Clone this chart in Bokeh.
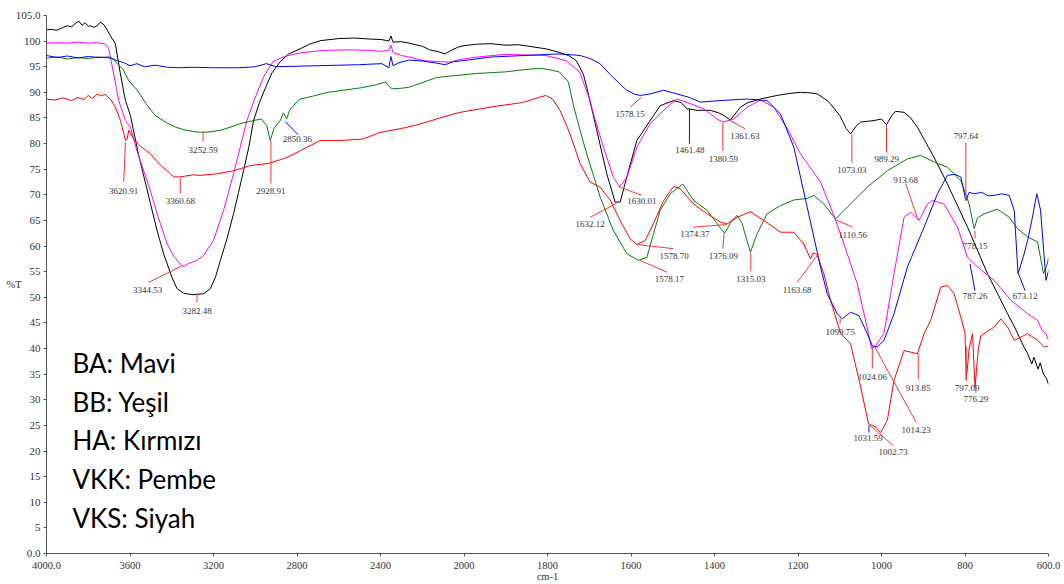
import numpy as np
from bokeh.plotting import figure
from bokeh.models import Range1d, FixedTicker, Label, ColumnDataSource
from bokeh.core.properties import value
from bokeh.embed import file_html
from bokeh.resources import INLINE

# ---------------- data (wavenumber cm-1, %T) ----------------
X_TICKS = [4000, 3600, 3200, 2800, 2400, 2000, 1800, 1600, 1400, 1200, 1000, 800, 600]
X_TICK_LABELS = ["4000.0", "3600", "3200", "2800", "2400", "2000", "1800", "1600",
                 "1400", "1200", "1000", "800", "600.0"]
Y_TICKS = list(range(0, 106, 5))
Y_TICK_LABELS = ["0.0"] + [str(v) for v in range(5, 105, 5)] + ["105.0"]

# VKS: Siyah (black)
BK_W = [4000, 3975, 3950, 3925, 3901, 3880, 3860, 3845, 3830, 3815, 3800, 3790, 3775, 3760, 3742,
        3725, 3710, 3690, 3670, 3646, 3622, 3598, 3560, 3502, 3470, 3439, 3400, 3375, 3343, 3300,
        3247, 3215, 3190, 3167, 3135, 3104, 3080, 3056, 3030, 3008, 2980, 2950, 2920, 2880, 2840,
        2785, 2740, 2686, 2600, 2523, 2450, 2393, 2360, 2350, 2340, 2300, 2263, 2200, 2164, 2120,
        2092, 2060, 2030, 2001, 1970, 1935, 1900, 1870, 1837, 1804, 1772, 1750, 1731, 1714, 1706,
        1682, 1658, 1638, 1626, 1610, 1586, 1554, 1530, 1498, 1480, 1466, 1442, 1410, 1390, 1378,
        1362, 1338, 1320, 1290, 1250, 1220, 1194, 1170, 1154, 1130, 1122, 1100, 1085, 1074, 1060,
        1050, 1018, 1000, 988, 975, 966, 946, 930, 914, 874, 842, 794, 746, 698, 680, 660, 650,
        640, 635, 625, 620, 612, 605, 600]
BK_T = [102.2, 102.3, 102.1, 102.6, 103.0, 102.8, 103.5, 103.9, 103.1, 103.6, 102.9, 103.0, 102.7,
        102.9, 103.7, 103.2, 102.2, 100.8, 99.5, 93.6, 88.4, 85.5, 78.0, 68.3, 63.0, 58.5, 54.0,
        51.7, 50.8, 50.5, 50.7, 51.7, 54.0, 57.2, 61.5, 66.3, 70.5, 74.7, 79.5, 84.5, 88.0, 91.0,
        93.8, 96.0, 97.5, 98.5, 99.4, 100.1, 100.5, 100.6, 100.4, 100.3, 100.0, 101.0, 99.8, 99.9,
        99.6, 99.0, 98.3, 97.9, 97.5, 98.2, 98.8, 99.1, 99.4, 99.5, 99.2, 99.3, 98.9, 98.5, 97.8,
        97.2, 96.2, 93.5, 91.0, 82.6, 74.1, 68.6, 68.6, 73.5, 80.6, 84.5, 87.4, 88.4, 88.0, 86.8,
        86.5, 86.5, 86.0, 85.5, 84.6, 87.1, 88.0, 88.7, 89.4, 89.8, 90.0, 89.9, 89.7, 88.4, 87.7,
        85.5, 83.0, 81.9, 83.5, 84.2, 84.5, 84.8, 83.7, 85.5, 86.3, 86.1, 85.0, 83.2, 77.3, 72.1,
        63.7, 54.6, 46.8, 44.0, 40.5, 39.0, 37.0, 38.3, 36.0, 37.2, 35.0, 34.2, 33.0]

# VKK: Pembe (magenta)
PK_W = [4000, 3950, 3900, 3850, 3800, 3760, 3726, 3714, 3702, 3678, 3654, 3622, 3598, 3566, 3534,
        3500, 3470, 3422, 3390, 3359, 3344, 3320, 3279, 3247, 3200, 3152, 3104, 3072, 3040, 3000,
        2960, 2915, 2860, 2785, 2720, 2654, 2550, 2458, 2400, 2360, 2350, 2340, 2300, 2263, 2196,
        2130, 2067, 2020, 1968, 1902, 1850, 1804, 1756, 1723, 1698, 1690, 1666, 1642, 1627, 1610,
        1586, 1554, 1522, 1490, 1458, 1426, 1394, 1380, 1354, 1322, 1290, 1258, 1226, 1194, 1146,
        1114, 1082, 1058, 1034, 1024, 1014, 994, 970, 946, 930, 910, 890, 878, 850, 818, 794, 770,
        730, 690, 650, 626, 615, 606, 600]
PK_T = [99.6, 99.7, 99.6, 99.8, 99.6, 99.7, 99.5, 99.3, 98.5, 93.6, 88.4, 84.5, 83.2, 78.5, 74.7,
        70.5, 66.3, 60.4, 58.0, 56.5, 56.0, 56.6, 57.2, 58.2, 61.1, 66.9, 74.1, 79.3, 84.5, 89.0,
        93.0, 96.0, 97.0, 97.7, 98.0, 98.2, 98.3, 98.2, 98.0, 98.2, 99.2, 97.8, 97.2, 96.9, 96.2,
        96.0, 95.9, 96.4, 96.9, 97.4, 97.3, 97.2, 96.2, 94.0, 88.4, 85.8, 79.3, 73.4, 71.6, 73.4,
        79.3, 83.9, 86.5, 88.7, 87.8, 86.8, 84.8, 84.2, 84.8, 87.1, 88.5, 87.1, 83.0, 78.0, 72.5,
        66.0, 58.5, 52.6, 44.0, 40.0, 40.5, 43.0, 54.6, 65.6, 66.6, 65.0, 68.2, 68.9, 68.2, 63.7,
        57.8, 55.9, 53.3, 49.4, 46.8, 45.5, 43.5, 42.9, 41.6]

# BA: Mavi (blue)
BL_W = [4000, 3950, 3900, 3850, 3800, 3750, 3700, 3665, 3630, 3600, 3567, 3530, 3480, 3420, 3371,
        3300, 3200, 3078, 3000, 2947, 2900, 2800, 2700, 2600, 2500, 2450, 2393, 2360, 2350, 2340,
        2311, 2263, 2196, 2131, 2090, 2050, 2001, 1935, 1854, 1800, 1772, 1722, 1698, 1674, 1650,
        1625, 1610, 1590, 1578, 1554, 1522, 1490, 1460, 1434, 1386, 1322, 1274, 1242, 1210, 1178,
        1146, 1130, 1106, 1094, 1074, 1054, 1034, 1022, 1010, 994, 970, 938, 898, 866, 842, 825,
        810, 798, 790, 778, 760, 745, 730, 712, 694, 682, 673, 660, 650, 640, 628, 619, 606, 600]
BL_T = [97.2, 96.8, 97.1, 96.7, 97.0, 96.8, 96.9, 96.2, 95.8, 95.2, 95.6, 95.0, 95.3, 94.9, 94.8,
        94.9, 94.8, 94.8, 95.0, 95.6, 95.0, 95.1, 95.2, 95.3, 95.4, 95.5, 95.6, 94.8, 97.0, 95.2,
        95.8, 96.3, 96.1, 95.7, 95.4, 96.0, 96.2, 96.9, 97.2, 97.4, 97.5, 97.2, 96.6, 95.6, 93.5,
        91.5, 90.4, 89.6, 89.4, 89.7, 90.4, 89.7, 89.0, 88.1, 88.4, 88.7, 88.4, 85.8, 79.3, 67.6,
        55.9, 50.7, 46.8, 45.8, 47.1, 46.4, 42.9, 40.5, 40.3, 41.6, 46.8, 55.9, 63.7, 70.2, 73.8,
        74.0, 73.5, 68.9, 70.5, 70.2, 70.5, 69.8, 69.9, 70.2, 69.9, 66.9, 54.6, 58.0, 61.1, 65.0,
        70.2, 67.0, 53.3, 55.2]

# BB: Yeşil (green)
GR_W = [4000, 3950, 3900, 3850, 3800, 3750, 3700, 3681, 3660, 3633, 3606, 3567, 3518, 3480, 3422,
        3380, 3343, 3300, 3263, 3210, 3167, 3120, 3072, 3008, 2970, 2945, 2928, 2910, 2880, 2865,
        2850, 2835, 2800, 2785, 2720, 2654, 2600, 2491, 2420, 2376, 2355, 2344, 2300, 2263, 2200,
        2131, 2060, 1968, 1900, 1870, 1821, 1800, 1772, 1750, 1738, 1720, 1706, 1674, 1642, 1610,
        1582, 1562, 1546, 1530, 1506, 1476, 1450, 1418, 1394, 1376, 1358, 1346, 1334, 1314, 1298,
        1274, 1242, 1210, 1178, 1162, 1138, 1110, 1082, 1034, 986, 938, 906, 874, 842, 810, 790,
        778, 770, 754, 722, 694, 674, 650, 626, 612, 603, 600]
GR_T = [96.7, 96.9, 96.5, 96.8, 96.6, 96.9, 96.7, 96.5, 95.5, 94.5, 92.3, 90.5, 87.5, 85.5, 84.0,
        83.2, 82.7, 82.4, 82.2, 82.3, 82.6, 83.2, 83.9, 84.5, 84.8, 83.5, 80.6, 83.0, 84.5, 86.0,
        84.8, 86.5, 88.2, 88.7, 89.3, 90.0, 90.3, 90.9, 91.5, 92.0, 91.0, 90.7, 90.8, 91.0, 91.9,
        92.9, 93.2, 93.7, 94.0, 94.3, 94.7, 94.5, 94.0, 92.0, 87.5, 82.0, 78.0, 69.6, 63.0, 58.5,
        57.2, 57.8, 62.4, 67.0, 70.2, 72.1, 68.9, 67.0, 64.4, 62.5, 65.0, 66.0, 64.4, 58.8, 62.4,
        66.3, 67.9, 69.0, 69.3, 69.9, 68.2, 65.3, 67.6, 71.5, 74.7, 77.0, 77.7, 76.4, 75.4, 72.8,
        68.2, 63.4, 65.5, 66.3, 67.2, 65.6, 63.4, 61.8, 60.8, 54.6, 56.5, 57.7]

# HA: Kırmızı (red)
RD_W = [4000, 3960, 3920, 3880, 3850, 3820, 3800, 3780, 3758, 3740, 3720, 3694, 3670, 3646, 3630,
        3621, 3614, 3606, 3582, 3550, 3502, 3460, 3422, 3390, 3359, 3300, 3263, 3183, 3104, 3024,
        2928, 2848, 2785, 2689, 2593, 2482, 2402, 2306, 2250, 2178, 2100, 2019, 1960, 1914, 1860,
        1821, 1804, 1788, 1770, 1746, 1722, 1698, 1674, 1650, 1626, 1602, 1586, 1566, 1546, 1522,
        1498, 1482, 1450, 1418, 1386, 1370, 1346, 1314, 1282, 1242, 1210, 1186, 1170, 1163, 1154,
        1138, 1122, 1098, 1074, 1050, 1031, 1014, 1002, 986, 970, 946, 914, 898, 882, 858, 842,
        826, 810, 800, 797, 790, 782, 776, 768, 762, 730, 714, 698, 682, 650, 626, 610, 600]
RD_T = [88.7, 88.5, 88.9, 88.4, 89.0, 88.6, 89.4, 88.8, 89.7, 89.3, 89.6, 88.7, 87.1, 84.5, 82.0,
        80.6, 80.8, 82.6, 80.9, 79.5, 78.0, 76.0, 74.7, 73.5, 73.5, 73.9, 73.8, 74.1, 74.7, 75.7,
        76.2, 77.3, 78.6, 80.6, 80.6, 80.9, 82.2, 82.9, 83.4, 84.2, 85.2, 86.1, 86.8, 87.4, 88.0,
        89.0, 89.4, 88.7, 86.5, 81.9, 76.1, 72.5, 71.5, 69.0, 65.0, 61.4, 60.3, 61.1, 64.4, 68.9,
        71.6, 71.2, 68.2, 66.3, 64.7, 64.3, 65.6, 66.7, 65.0, 62.7, 62.7, 60.4, 57.5, 58.7, 58.3,
        54.6, 49.4, 43.0, 40.9, 32.5, 25.3, 24.7, 23.6, 26.0, 33.8, 39.6, 39.0, 42.9, 45.5, 52.0,
        52.3, 50.7, 46.1, 43.0, 33.8, 40.0, 42.9, 32.5, 40.0, 42.5, 44.2, 45.8, 44.2, 41.6, 42.9,
        41.6, 40.3, 40.5]

# peak labels: text, label position (cm-1, %T), leader line (cm-1, %T) -> (cm-1, %T), leader colour
PEAK_TEXT = ["3620.91", "3360.68", "3252.59", "2928.91", "2850.36", "3344.53", "3282.48",
             "1578.15", "1461.48", "1380.59", "1361.63", "1630.01", "1632.12", "1578.70",
             "1578.17", "1374.37", "1376.09", "1315.03", "1163.68", "1073.03", "989.29",
             "797.64", "913.68", "778.15", "1110.56", "787.26", "673.12", "1099.75", "1024.06",
             "913.85", "797.09", "776.29", "1014.23", "1002.73", "1031.59"]
PEAK_TX = [3630, 3359, 3250, 2925, 2798, 3515, 3279, 1602, 1459, 1379, 1327, 1574, 1698, 1497,
           1508, 1447, 1379, 1313, 1202, 1071, 988, 798, 942, 776, 1069, 776, 656, 1099, 1022,
           912, 795, 774, 917, 972, 1032]
PEAK_TY = [70.8, 68.7, 78.8, 70.8, 80.8, 51.5, 47.3, 85.7, 78.8, 77.0, 81.4, 68.8, 64.3, 58.0,
           53.6, 62.3, 58.0, 53.6, 51.5, 74.9, 77.0, 81.4, 72.8, 60.1, 62.2, 50.2, 50.2, 43.2,
           34.5, 32.3, 32.3, 30.2, 24.1, 19.8, 22.6]
LEAD_X0 = [3622, 3359, 3250, 2925, 2856, 3511, 3279, 1602, 1460, 1380, 1363, 1630, 1698, 1586,
           1578, 1451, 1377, 1313, 1202, 1071, 988, 798, 942, 776, 1109, 788, 672, 1099, 1022,
           912, 797, 774, 1016, 1028, 1030]
LEAD_Y0 = [80.3, 73.2, 82.4, 80.6, 84.3, 52.9, 50.7, 87.1, 86.8, 84.1, 84.5, 71.6, 65.6, 60.3,
           57.2, 63.7, 62.4, 58.7, 52.9, 81.8, 83.7, 80.2, 72.2, 63.0, 65.1, 56.5, 54.6, 45.9,
           40.4, 39.0, 40.4, 32.6, 40.3, 25.0, 25.0]
LEAD_X1 = [3630, 3359, 3250, 2925, 2794, 3343, 3279, 1574, 1460, 1380, 1327, 1574, 1634, 1499,
           1514, 1371, 1380, 1313, 1151, 1071, 988, 798, 912, 776, 1069, 776, 656, 1099, 1022,
           912, 797, 774, 917, 972, 1030]
LEAD_Y1 = [72.5, 70.3, 80.4, 72.2, 81.7, 56.3, 49.0, 89.1, 80.0, 78.6, 82.9, 69.9, 68.4, 59.5,
           54.9, 64.2, 59.5, 55.2, 58.5, 76.3, 78.3, 68.9, 65.0, 61.5, 63.7, 51.3, 51.3, 44.9,
           36.1, 34.0, 33.8, 31.4, 25.6, 21.1, 23.6]
LEAD_COLOR = ["red", "red", "red", "red", "blue", "red", "red", "red", "blue", "red", "red",
              "red", "red", "red", "red", "red", "red", "red", "red", "red", "red", "red", "red",
              "red", "red", "blue", "blue", "red", "red", "red", "red", "red", "red", "red", "blue"]

LEGEND_LINES = ["BA: Mavi", "BB: Yeşil", "HA: Kırmızı", "VKK: Pembe", "VKS: Siyah"]


# ---------------- axis transform: 4000-2000 at half scale, 2000-600 full ----------------
def xu(w):
    w = np.asarray(w, dtype=float)
    return np.where(w >= 2000, (4000.0 - w) / 2.0, 1000.0 + (2000.0 - w))


SERIF = "Liberation Serif"
TXT = "#333333"

p = figure(frame_width=1002, frame_height=538, output_backend="svg", toolbar_location=None,
           x_range=Range1d(0, 2400), y_range=Range1d(0, 105),
           min_border_left=46, min_border_right=16, min_border_top=15, min_border_bottom=31)
p.outline_line_color = None
p.grid.visible = False
p.background_fill_color = "white"
p.border_fill_color = "white"

tick_pos = [int(v) for v in xu(X_TICKS)]
p.xaxis.ticker = FixedTicker(ticks=tick_pos)
p.xaxis.major_label_overrides = {t: l for t, l in zip(tick_pos, X_TICK_LABELS)}
p.yaxis.ticker = FixedTicker(ticks=Y_TICKS)
p.yaxis.major_label_overrides = {t: l for t, l in zip(Y_TICKS, Y_TICK_LABELS)}
for ax in (p.xaxis[0], p.yaxis[0]):
    ax.axis_line_color = "#555555"
    ax.major_tick_line_color = "#555555"
    ax.minor_tick_line_color = None
    ax.major_tick_in = 0
    ax.major_tick_out = 3
    ax.major_label_text_font = SERIF
    ax.major_label_text_color = TXT
    ax.axis_label_text_font = SERIF
    ax.axis_label_text_font_style = "normal"
    ax.axis_label_text_color = TXT
    ax.axis_label_text_font_size = "10.5px"
p.xaxis.major_label_text_font_size = "10.5px"
p.yaxis.major_label_text_font_size = "11px"
p.xaxis.major_label_standoff = 5
p.yaxis.major_label_standoff = 3

# axis titles
p.xaxis.axis_label = "cm-1"
p.xaxis.axis_label_standoff = -1
p.yaxis.axis_label = "%T"
p.yaxis.axis_label_orientation = "horizontal"
p.yaxis.axis_label_standoff = -9

for W, T, col in [(BK_W, BK_T, "black"), (PK_W, PK_T, "#ff00ff"), (GR_W, GR_T, "#008000"),
                  (RD_W, RD_T, "#ff0000"), (BL_W, BL_T, "#0000ff")]:
    p.line(xu(W), T, line_color=col, line_width=1)

colmap = {"red": "#ff3333", "blue": "#0000ff"}
lead_src = ColumnDataSource(dict(x0=xu(LEAD_X0), y0=LEAD_Y0, x1=xu(LEAD_X1), y1=LEAD_Y1,
                                 c=[colmap[c] for c in LEAD_COLOR]))
p.segment("x0", "y0", "x1", "y1", source=lead_src, line_color="c", line_width=1)

txt_src = ColumnDataSource(dict(x=xu(PEAK_TX), y=PEAK_TY, t=PEAK_TEXT))
p.text("x", "y", text="t", source=txt_src, text_font=value(SERIF), text_font_size="9px",
       text_color=TXT, text_align="center", text_baseline="middle")

# legend-like text block
legend_y = [37.1, 29.5, 22.1, 14.6, 7.0]
for s, yy in zip(LEGEND_LINES, legend_y):
    p.add_layout(Label(x=62, y=yy, text=s, text_font="Lato", text_font_size="26px",
                       text_color="black", text_baseline="middle", text_align="left"))

open("out.html", "w").write(file_html(p, INLINE))
